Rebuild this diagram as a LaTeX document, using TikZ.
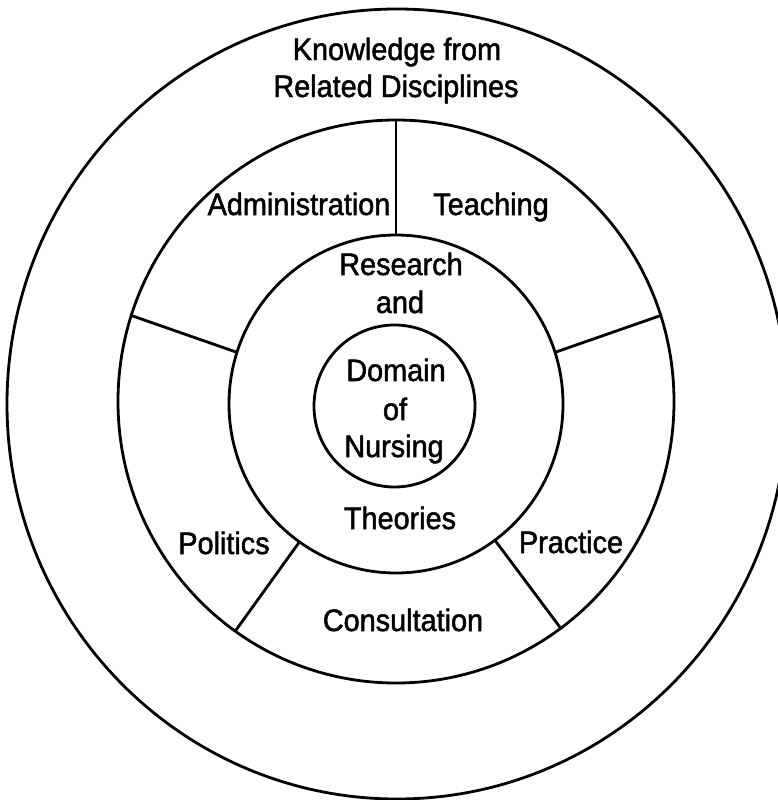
\documentclass[tikz,border=0pt]{standalone}
\usepackage{fontspec}
\newfontfamily\lblfont[FakeStretch=0.93,FakeBold=1.6]{Liberation Sans}
\usetikzlibrary{shapes.geometric}
\begin{document}
\begin{tikzpicture}[x=1pt,y=-1pt,
  ring/.style={ellipse, draw, line width=2.8pt, inner sep=0pt, outer sep=0pt},
  spoke/.style={line width=2.8pt},
  lbl/.style={anchor=base, inner sep=0pt, font=\lblfont\fontsize{31}{37}\selectfont}]
\useasboundingbox (0,0) rectangle (777,800);
\node[ring, minimum width=780pt, minimum height=790pt] (outer) at (397,404) {};
\node[ring, minimum width=556pt, minimum height=563pt] (mid) at (396,401.5) {};
\node[ring, minimum width=334pt, minimum height=338pt] (inner) at (396,404) {};
\node[ring, minimum width=161pt, minimum height=162pt] (core) at (394.5,406) {};
% spokes
\draw[spoke] (inner.90) -- (mid.90);
\draw[spoke] (inner.162) -- (mid.162);
\draw[spoke] (inner.18) -- (mid.18);
\draw[spoke] (inner.235) -- (mid.235);
\draw[spoke] (inner.306) -- (mid.306);
% labels
\node[lbl] (k1) at (397,60) {Knowledge from};
\node[lbl] (k2) at (396,97) {Related Disciplines};
\node[lbl] (adm) at (299,215) {Administration};
\node[lbl] (teach) at (491,215) {Teaching};
\node[lbl] (res) at (401,275) {Research};
\node[lbl] (and) at (400,313) {and};
\node[lbl] (dom) at (396,381) {Domain};
\node[lbl] (of) at (395,420) {of};
\node[lbl] (nurs) at (394,457) {Nursing};
\node[lbl] (theo) at (400,529) {Theories};
\node[lbl] (pol) at (224,554) {Politics};
\node[lbl] (prac) at (571,553) {Practice};
\node[lbl] (cons) at (403,631) {Consultation};
\end{tikzpicture}
\end{document}
